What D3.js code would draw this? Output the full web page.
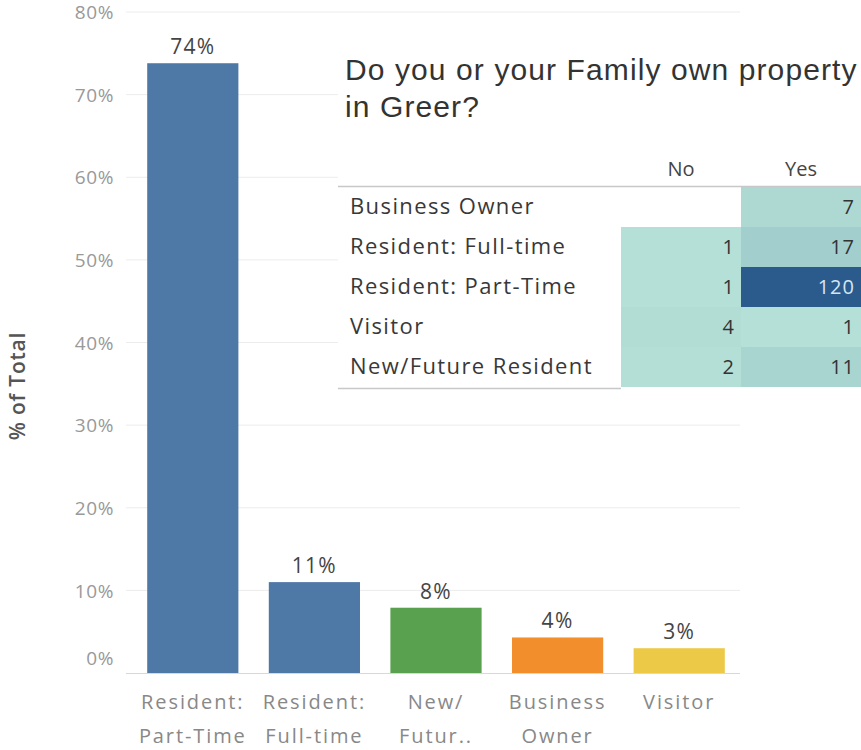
<!DOCTYPE html>
<html><head><meta charset="utf-8">
<script src="https://cdn.jsdelivr.net/npm/d3@7"></script>
<style>body{margin:0;background:#fff}svg{display:block}</style>
</head><body>
<svg id="c" width="861" height="750"></svg>
<script>
// ---- data ----
const categories = ["Resident: Part-Time","Resident: Full-time","New/Future Resident","Business Owner","Visitor"];
const xLabelLines = [["Resident:","Part-Time"],["Resident:","Full-time"],["New/","Futur.."],["Business","Owner"],["Visitor"]];
const pctValues = [73.8, 11.0, 7.9, 4.3, 3.0];
const pctLabels = ["74%","11%","8%","4%","3%"];
const barColors = ["#4e79a7","#4e79a7","#59a14f","#f28e2b","#edc948"];
const yTicks = [0,10,20,30,40,50,60,70,80];

const tableRows = ["Business Owner","Resident: Full-time","Resident: Part-Time","Visitor","New/Future Resident"];
const tableCols = ["No","Yes"];
const noCounts = [null, 1, 1, 4, 2];
const yesCounts = [7, 17, 120, 1, 11];
const titleLines = ["Do you or your Family own property","in Greer?"];

// ---- chart ----
const FONT = "'Open Sans',sans-serif";
const svg = d3.select("#c");
const x = d3.scaleBand().domain(categories).range([132,740]).paddingInner(0.25).paddingOuter(0.125);
const y = d3.scaleLinear().domain([0,80]).range([673,12]);

// gridlines
svg.append("g").selectAll("line").data(yTicks.filter(d=>d>0)).join("line")
  .attr("x1",126).attr("x2",740).attr("y1",d=>y(d)).attr("y2",d=>y(d))
  .attr("stroke","#ececec").attr("stroke-width",1);

// y axis
const yAxis = svg.append("g").attr("transform","translate(114,0)")
  .call(d3.axisLeft(y).tickValues(yTicks).tickFormat(d=>d+"%").tickSize(0).tickPadding(0));
yAxis.select(".domain").remove();
yAxis.selectAll("text").attr("font-family",FONT).attr("font-size",19).attr("letter-spacing","0.6")
  .attr("fill","#999").attr("dy",d=>d===0?"-0.45em":"0.35em");

svg.append("text").attr("transform","translate(25,386) rotate(-90)")
  .attr("text-anchor","middle").attr("font-family",FONT)
  .attr("font-size",21).attr("font-weight",600).attr("letter-spacing","0.8").attr("fill","#555").text("% of Total");

// bars
svg.append("g").selectAll("rect").data(categories).join("rect")
  .attr("x",d=>x(d)).attr("width",x.bandwidth())
  .attr("y",(d,i)=>y(pctValues[i])).attr("height",(d,i)=>y(0)-y(pctValues[i]))
  .attr("fill",(d,i)=>barColors[i]);

svg.append("g").selectAll("text").data(categories).join("text")
  .attr("x",d=>x(d)+x.bandwidth()/2).attr("y",(d,i)=>y(pctValues[i])-9)
  .attr("text-anchor","middle").attr("font-family",FONT).attr("letter-spacing","1.3")
  .attr("font-size",21).attr("fill","#444").text((d,i)=>pctLabels[i]);

// x axis
svg.append("line").attr("x1",126).attr("x2",740).attr("y1",y(0)+0.5).attr("y2",y(0)+0.5)
  .attr("stroke","#d8d8d8");
const xl = svg.append("g").selectAll("text").data(categories).join("text")
  .attr("text-anchor","middle").attr("font-family",FONT)
  .attr("font-size",20).attr("fill","#888").attr("letter-spacing","1.9");
xl.each(function(d,i){
  const t=d3.select(this);
  xLabelLines[i].forEach((ln,j)=>{
    t.append("tspan").attr("x",x(d)+x.bandwidth()/2).attr("y",709+j*34).text(ln);
  });
});

// ---- overlay: title + table ----
svg.append("rect").attr("x",338).attr("y",44).attr("width",523).attr("height",346).attr("fill","#fff");
svg.append("g").selectAll("text").data(titleLines).join("text")
  .attr("x",345).attr("y",(d,i)=>80+i*37)
  .attr("font-family","'Liberation Sans',Arial,sans-serif").attr("font-size",30).attr("letter-spacing","1.1")
  .attr("fill","#333").text(d=>d);

const colX = d3.scaleBand().domain(tableCols).range([621,861]);
const rowY = d3.scaleBand().domain(tableRows).range([187,387]);
const color = d3.scaleLinear().domain([1,120]).range(["#b5e0d7","#2b5a8d"]);

svg.append("g").selectAll("text").data(tableCols).join("text")
  .attr("x",d=>colX(d)+colX.bandwidth()/2).attr("y",176)
  .attr("text-anchor","middle").attr("font-family",FONT)
  .attr("font-size",20).attr("fill","#444").text(d=>d);

const cells = [];
tableRows.forEach((r,i)=>{
  if(noCounts[i]!=null) cells.push({r,c:"No",v:noCounts[i]});
  if(yesCounts[i]!=null) cells.push({r,c:"Yes",v:yesCounts[i]});
});
svg.append("g").selectAll("rect").data(cells).join("rect")
  .attr("x",d=>colX(d.c)).attr("y",d=>rowY(d.r))
  .attr("width",colX.bandwidth()).attr("height",rowY.bandwidth())
  .attr("fill",d=>color(d.v));
svg.append("g").selectAll("text").data(cells).join("text")
  .attr("x",d=>colX(d.c)+colX.bandwidth()-6).attr("y",d=>rowY(d.r)+rowY.bandwidth()/2+7)
  .attr("text-anchor","end").attr("font-family",FONT).attr("letter-spacing","1")
  .attr("font-size",20).attr("fill",d=>d.v>60?"#d4e6f2":"#333").text(d=>d.v);

svg.append("g").selectAll("text").data(tableRows).join("text")
  .attr("x",350).attr("y",d=>rowY(d)+rowY.bandwidth()/2+7)
  .attr("font-family",FONT).attr("font-size",22).attr("letter-spacing","1.4")
  .attr("font-weight",500).attr("fill","#383838").text(d=>d);

svg.append("line").attr("x1",338).attr("x2",861).attr("y1",186.5).attr("y2",186.5).attr("stroke","#c8c8c8").attr("stroke-width",1.5);
svg.append("line").attr("x1",338).attr("x2",621).attr("y1",388.5).attr("y2",388.5).attr("stroke","#c8c8c8").attr("stroke-width",1.5);
</script>
</body></html>
